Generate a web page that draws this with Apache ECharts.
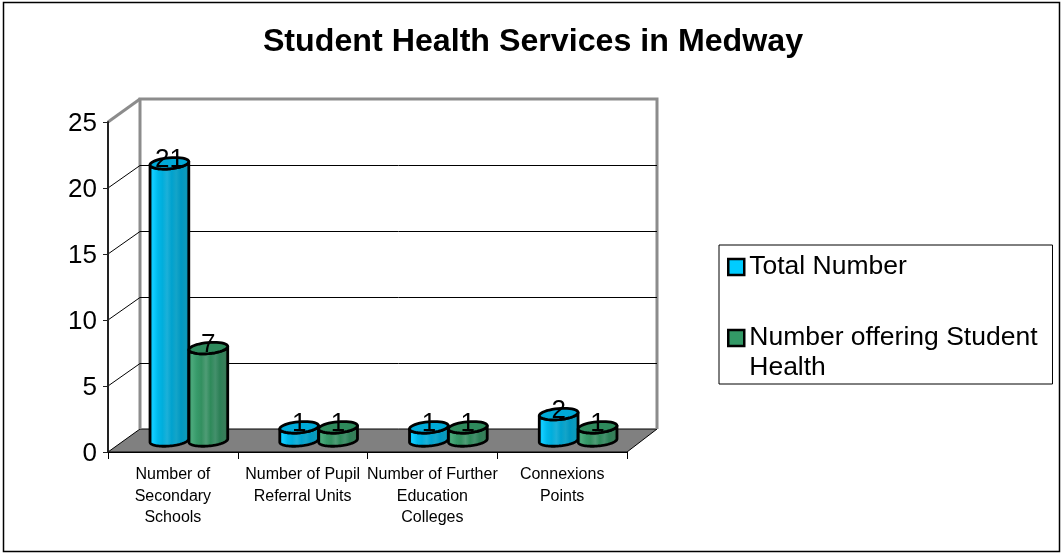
<!DOCTYPE html>
<html>
<head>
<meta charset="utf-8">
<style>
  html, body { margin: 0; padding: 0; background: #fff; }
  #main { width: 1061px; height: 553px; }
</style>
<script src="https://cdn.jsdelivr.net/npm/echarts@6/dist/echarts.min.js"></script>
</head>
<body>
<div id="main"></div>
<script>
const categories = [
  "Number of\nSecondary\nSchools",
  "Number of Pupil\nReferral Units",
  "Number of Further\nEducation\nColleges",
  "Connexions\nPoints"
];
const totalNumber = [21, 1, 1, 2];
const offeringHealth = [7, 1, 1, 1];
const yTicks = [0, 5, 10, 15, 20, 25];

const FONT = '"Liberation Sans", Arial, sans-serif';
// 3d look
const depthX = 32, depthY = 23;
const barRatio = 0.3;
const ryBar = 5.5, tilt = -0.09;

const blueStops = ["#00c4f4", "#10ccff", "#00b8ea", "#00aedc", "#1cb0d8", "#00a2ce", "#14a4c8", "#0098c2", "#0c9abc", "#008eb2"];
const greenStops = ["#339966", "#4aa87a", "#379a6a", "#339060", "#4f9c76", "#2e8a5a", "#44906c", "#2c8056", "#387e5a", "#2a6e4a"];

function stripes(colors) {
  return new echarts.graphic.LinearGradient(0, 0, 1, 0, colors.map(function (c, i) {
    return { offset: i / (colors.length - 1), color: c };
  }));
}

function ellipsePoints(cx, cy, rx, ry, from, to) {
  let pts = [];
  for (let i = 0; i <= 40; i++) {
    let t = from + (to - from) * i / 40;
    let x = rx * Math.cos(t), y = ry * Math.sin(t);
    pts.push([cx + x * Math.cos(tilt) - y * Math.sin(tilt), cy + x * Math.sin(tilt) + y * Math.cos(tilt)]);
  }
  return pts;
}

function cylinder(seriesPos, stops, topColor) {
  return function (params, api) {
    let top = api.coord([api.value(0), api.value(1)]);
    let base = api.coord([api.value(0), 0]);
    let band = api.size([1, 0])[0];
    let w = band * barRatio;
    let cx = top[0] + seriesPos * w + depthX / 2;
    let yTop = top[1] - depthY / 2;
    let yBase = base[1] - depthY / 2;
    let lower = ellipsePoints(cx, yBase, w / 2, ryBar, 0, Math.PI);
    let upper = ellipsePoints(cx, yTop, w / 2, ryBar, Math.PI, 0);
    return {
      type: "group",
      children: [
        {
          type: "polygon",
          shape: { points: lower.concat(upper) },
          style: { fill: stripes(stops), stroke: "#000", lineWidth: 2.8, lineJoin: "round" }
        },
        {
          type: "polygon",
          shape: { points: ellipsePoints(cx, yTop, w / 2, ryBar, 0, Math.PI * 2) },
          style: { fill: topColor, stroke: "#000", lineWidth: 2.8 }
        },
        {
          type: "text",
          style: {
            x: cx, y: yTop + 10, text: String(api.value(1)),
            fill: "#000", font: "26px " + FONT, align: "center", verticalAlign: "bottom"
          }
        }
      ]
    };
  };
}

// left and right end of the category axis at a given value
function axisEnds(api, v) {
  let band = api.size([1, 0])[0];
  let a = api.coord([0, v]);
  let b = api.coord([categories.length - 1, v]);
  return [[a[0] - band / 2, a[1]], [b[0] + band / 2, b[1]]];
}

const chart = echarts.init(document.getElementById("main"));
chart.setOption({
  animation: false,
  backgroundColor: "#fff",
  title: {
    text: "Student Health Services in Medway",
    left: 528, top: 21, textAlign: "center",
    textStyle: { fontFamily: FONT, fontSize: 32.2, fontWeight: "bold", color: "#000" }
  },
  legend: {
    orient: "vertical",
    left: 719, top: 245,
    padding: [7, 15, 1, 8],
    itemWidth: 16, itemHeight: 16, itemGap: 11,
    backgroundColor: "#fff",
    borderColor: "#000", borderWidth: 1,
    formatter: function (name) {
      // blank first line keeps the square level with the first text line
      return name === "Number offering Student Health" ? "\nNumber offering Student\nHealth" : name;
    },
    textStyle: { fontFamily: FONT, fontSize: 26.5, color: "#000", lineHeight: 30 },
    data: [
      { name: "Total Number", icon: "rect", itemStyle: { color: "#00ccff", borderColor: "#000", borderWidth: 2.5 } },
      { name: "Number offering Student Health", icon: "rect", itemStyle: { color: "#339966", borderColor: "#000", borderWidth: 2.5 } }
    ]
  },
  grid: { left: 108, right: 434, top: 122, bottom: 101 },
  xAxis: {
    type: "category",
    data: categories,
    axisLine: { lineStyle: { color: "#000", width: 1 } },
    axisTick: { show: true, length: 7, lineStyle: { color: "#000" } },
    axisLabel: { fontFamily: FONT, fontSize: 16, color: "#000", lineHeight: 21.5, margin: 12, interval: 0 },
    z: 5
  },
  yAxis: {
    type: "value",
    min: 0, max: 25, interval: 5,
    axisLine: { show: true, lineStyle: { color: "#222", width: 2 } },
    axisTick: { show: true, length: 5, lineStyle: { color: "#222" } },
    axisLabel: {
      margin: 11,
      formatter: "{v|{value}}",
      rich: { v: { fontFamily: FONT, fontSize: 26, color: "#000", padding: [4, 0, 0, 0] } }
    },
    splitLine: { show: false },
    z: 5
  },
  series: [
    {
      // floor and back wall frame
      name: "walls",
      type: "custom",
      silent: true,
      z: 1,
      data: [[0]],
      renderItem: function (params, api) {
        let ends = axisEnds(api, 0);
        let a = ends[0], b = ends[1];
        let t = axisEnds(api, yTicks[yTicks.length - 1])[0];
        let gray = { stroke: "#8c8c8c", lineWidth: 3, fill: null };
        return {
          type: "group",
          children: [
            {
              type: "polygon",
              shape: { points: [a, b, [b[0] + depthX - 2, b[1] - depthY], [a[0] + depthX, a[1] - depthY]] },
              style: { fill: "#808080", stroke: "#000", lineWidth: 1 }
            },
            {
              type: "polyline",
              shape: { points: [[a[0] + depthX, a[1] - depthY], [t[0] + depthX, t[1] - depthY], [b[0] + depthX - 2, t[1] - depthY], [b[0] + depthX - 2, b[1] - depthY]] },
              style: gray
            },
            {
              type: "line",
              shape: { x1: t[0], y1: t[1], x2: t[0] + depthX, y2: t[1] - depthY },
              style: gray
            }
          ]
        };
      }
    },
    {
      // grid lines, side wall + back wall
      name: "grid",
      type: "custom",
      silent: true,
      z: 2,
      data: yTicks.slice(1, 5).map(function (v) { return [v]; }),
      renderItem: function (params, api) {
        let ends = axisEnds(api, api.value(0));
        let a = ends[0], b = ends[1];
        return {
          type: "polyline",
          shape: { points: [a, [a[0] + depthX, a[1] - depthY + 0.5], [b[0] + depthX - 2, a[1] - depthY + 0.5]] },
          style: { stroke: "#000", lineWidth: 1, fill: null }
        };
      }
    },
    {
      name: "Total Number",
      type: "custom",
      z: 3,
      itemStyle: { color: "#00ccff" },
      data: categories.map(function (c, i) { return [i, totalNumber[i]]; }),
      renderItem: cylinder(-0.5, blueStops, "#00aad8")
    },
    {
      name: "Number offering Student Health",
      type: "custom",
      z: 4,
      itemStyle: { color: "#339966" },
      data: categories.map(function (c, i) { return [i, offeringHealth[i]]; }),
      renderItem: cylinder(0.5, greenStops, "#2e8a5c")
    }
  ],
  graphic: [{
    type: "rect",
    silent: true,
    z: -1,
    shape: { x: 3.5, y: 2.5, width: 1056, height: 549 },
    style: { fill: null, stroke: "#000", lineWidth: 1.5 }
  }]
});
</script>
</body>
</html>
